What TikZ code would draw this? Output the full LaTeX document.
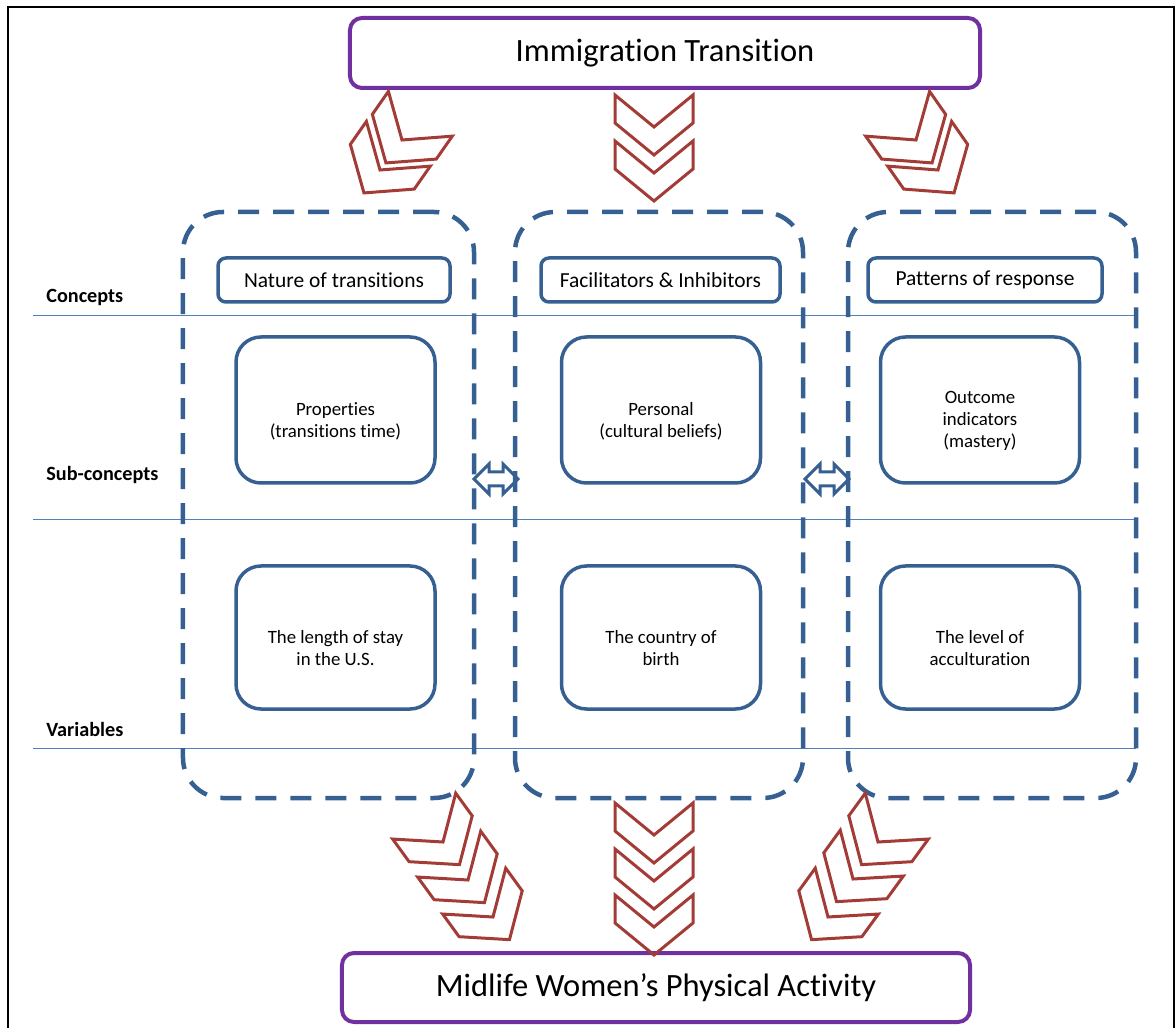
\documentclass[tikz,border=0pt]{standalone}
\usepackage{fontspec}
\setmainfont[Ligatures=NoCommon]{Carlito}
\usepackage{xcolor}
\usetikzlibrary{positioning}
\definecolor{titlepurple}{HTML}{7030A0}
\definecolor{boxblue}{HTML}{376092}
\definecolor{ruleblue}{HTML}{4F81BD}
\definecolor{chevred}{HTML}{A33C36}

\begin{document}
\begin{tikzpicture}[x=0.2mm, y=-0.2mm]
\tikzstyle{titlebox}=[draw=titlepurple, line width=0.8mm, rounded corners=2.4mm, font=\fontsize{18.5}{22}\selectfont]
\tikzstyle{groupbox}=[draw=boxblue, line width=0.9mm, dash pattern=on 4.2mm off 2.8mm, rounded corners=8mm, minimum height=117.2mm]
\tikzstyle{conceptbox}=[draw=boxblue, line width=0.7mm, rounded corners=1.6mm, minimum height=8.8mm, font=\fontsize{12.2}{14}\selectfont]
\tikzstyle{subbox}=[draw=boxblue, line width=0.7mm, rounded corners=5mm, minimum width=39.8mm]
\tikzstyle{boxtext}=[align=center, yshift=-2.2mm, font=\fontsize{10.7}{12.5}\selectfont]
\tikzstyle{rowlabel}=[anchor=west, inner sep=0pt, font=\fontsize{11.5}{13}\selectfont\bfseries]
\tikzstyle{rowline}=[draw=ruleblue, line width=0.2mm]
\tikzset{
  chevr/.pic={\draw[chevred, line width=0.6mm] (-39,-32) -- (0,0) -- (39,-32) -- (39,-4) -- (0,28) -- (-39,-4) -- cycle;},
  swaparrow/.pic={\draw[boxblue, line width=0.6mm] (-22,0) -- (-7,-15) -- (-7,-7) -- (7,-7) -- (7,-15) -- (22,0) -- (7,15) -- (7,7) -- (-7,7) -- (-7,15) -- cycle;}
}
\useasboundingbox (0,0) rectangle (1176,1028);
\draw[line width=0.5mm] (8,1028) |- (1174,7) -- (1174,1028);

% row separators and labels
\foreach \yy in {316,520,748} \draw[rowline] (33,\yy) -- (1136,\yy);
\node[rowlabel] (lblconcepts) at (46,297) {Concepts};
\node[rowlabel] (lblsub) at (46,475) {Sub-concepts};
\node[rowlabel] (lblvars) at (46,729) {Variables};

% top and bottom
\node[titlebox, minimum width=126mm, minimum height=14mm] (immig) at (665,53) {Immigration Transition};
\node[titlebox, minimum width=125.6mm, minimum height=13.8mm] (activity) at (656,987.5) {Midlife Women's Physical Activity};

% three groups
\node[groupbox, minimum width=58.2mm] (grpnature) at (328.5,505) {};
\node[groupbox, minimum width=57.6mm] (grpfactors) at (659,505) {};
\node[groupbox, minimum width=57.6mm] (grpresponse) at (992,505) {};

\node[conceptbox, minimum width=46.4mm] (cnature) at (334,280) {Nature of transitions};
\node[conceptbox, minimum width=47.8mm] (cfactors) at (660.5,280) {Facilitators \& Inhibitors};
\node[conceptbox, minimum width=46.8mm] (cresponse) at (985,280) {Patterns of response};

\node[subbox, minimum height=29.2mm, label={[boxtext]center:Properties\\(transitions time)}] (sprops) at (335.5,410) {};
\node[subbox, minimum height=29.2mm, label={[boxtext]center:Personal\\(cultural beliefs)}] (spersonal) at (661,410) {};
\node[subbox, minimum height=29.2mm, label={[boxtext]center:Outcome\\indicators\\(mastery)}] (soutcome) at (980,410) {};

\node[subbox, minimum height=28.6mm, label={[boxtext]center:The length of stay\\in the U.S.}] (vstay) at (335.5,637.5) {};
\node[subbox, minimum height=28.6mm, label={[boxtext]center:The country of\\birth}] (vcountry) at (661,637.5) {};
\node[subbox, minimum height=28.6mm, label={[boxtext]center:The level of\\acculturation}] (vaccult) at (980,637.5) {};

% links between groups
\pic at (496,479) {swaparrow};
\pic at (827,479) {swaparrow};

% chevrons from the transition
\pic[rotate=-35] at (402,140) {chevr};
\pic[rotate=-35] at (380,170) {chevr};
\pic at (654,127) {chevr};
\pic at (654,173) {chevr};
\pic[rotate=35] at (916,140) {chevr};
\pic[rotate=35] at (938,170) {chevr};

% chevrons to activity
\foreach \cx/\cy in {443/842, 468/880, 493/917} \pic[rotate=36] at (\cx,\cy) {chevr};
\foreach \cy in {835,881,927} \pic at (654,\cy) {chevr};
\foreach \cx/\cy in {878/842, 853/879, 828/917} \pic[rotate=-36] at (\cx,\cy) {chevr};
\end{tikzpicture}
\end{document}
